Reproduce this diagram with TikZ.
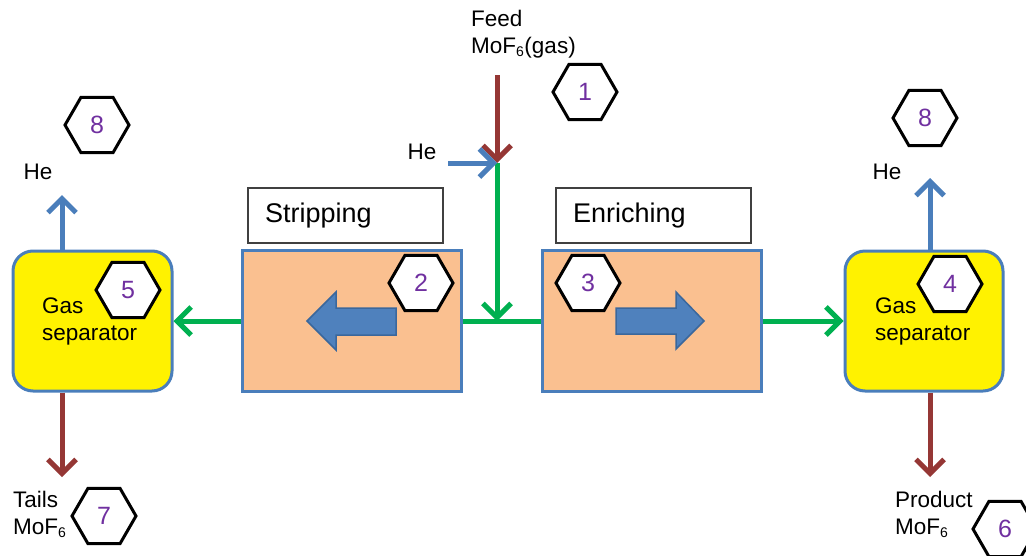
\documentclass[tikz,border=0pt]{standalone}
\usepackage{fontspec}
\setmainfont{Liberation Sans}
\usetikzlibrary{arrows.meta,shapes.geometric}
\definecolor{gline}{HTML}{00B050}
\definecolor{rline}{HTML}{953735}
\definecolor{bline}{HTML}{4A7EBB}
\definecolor{bfill}{HTML}{4F81BD}
\definecolor{bborder}{HTML}{3A679C}
\definecolor{peach}{HTML}{FAC090}
\definecolor{purp}{HTML}{7030A0}
\tikzset{
  hexa/.style={regular polygon, regular polygon sides=6, minimum size=64pt, inner sep=0pt,
    draw=black, line width=3pt, fill=white, text=purp, font=\fontsize{25}{25}\selectfont},
  sep/.style={draw=bline, line width=3pt, fill=yellow, rounded corners=20pt, inner sep=0pt},
  stage/.style={draw=bline, line width=3pt, fill=peach, inner sep=0pt},
  lbox/.style={draw=black!75, line width=1.5pt, fill=white, inner sep=0pt},
  lbl/.style={font=\fontsize{22.5}{27}\selectfont, inner sep=0pt, align=left},
  big/.style={font=\fontsize{27}{30}\selectfont, inner sep=0pt},
  flow/.style={line width=5pt, -{Straight Barb[length=14pt,width=28pt,line width=5pt]}},
  blockarrow/.style={fill=bfill, draw=bborder, line width=1.5pt},
}
\begin{document}
\begin{tikzpicture}[x=1pt,y=-1pt]
\useasboundingbox (0,0) rectangle (1026,555);
% separators and stages
\node[sep, minimum width=159pt, minimum height=140pt] (lsep) at (92.5,321) {};
\node[sep, minimum width=158pt, minimum height=140pt] (rsep) at (924,321) {};
\node[stage, minimum width=219pt, minimum height=141pt] (strip) at (351.5,321) {};
\node[stage, minimum width=219pt, minimum height=141pt] (enr) at (651.5,321) {};
\node[lbox, minimum width=195pt, minimum height=55pt] (stripl) at (345.5,215.5) {};
\node[lbox, minimum width=195pt, minimum height=55pt] (enrl) at (653.5,215.5) {};
\node[big, anchor=west] (striptext) at (265,216) {Stripping};
\node[big, anchor=west] (enrtext) at (573,216) {Enriching};
% block arrows
\draw[blockarrow] (396,308) -- (336,308) -- (336,292) -- (307,321) -- (336,350) -- (336,335) -- (396,335) -- cycle;
\draw[blockarrow] (616,308) -- (676,308) -- (676,292) -- (704,321) -- (676,349) -- (676,334) -- (616,334) -- cycle;
% separator text
\node[lbl, anchor=west] (lgas) at (42,321) {Gas\\separator};
\node[lbl, anchor=west] (rgas) at (875,321) {Gas\\separator};
% junction
\coordinate (junc) at (497,163);
\coordinate (mid) at (497,321);
\coordinate (feedtop) at (497,75);
\coordinate (hein) at (448,163);
\draw[line width=5pt, gline] (strip.east) -- (enr.west);
\draw[flow, gline] (junc) -- (mid);
\draw[flow, rline] (feedtop) -- (junc);
\draw[flow, bline] (hein) -- (junc);
\draw[flow, gline] (strip.west) -- (lsep.east);
\draw[flow, gline] (enr.east) -- (rsep.west);
% outputs
\coordinate (lhe) at (62,195);
\coordinate (ltail) at (62,477);
\coordinate (rhe) at (930,178);
\coordinate (rprod) at (930,477);
\draw[flow, bline] (lsep.north -| lhe) -- (lhe);
\draw[flow, rline] (lsep.south -| ltail) -- (ltail);
\draw[flow, bline] (rsep.north -| rhe) -- (rhe);
\draw[flow, rline] (rsep.south -| rprod) -- (rprod);
% labels
\node[lbl, anchor=west] (feed) at (471,34) {Feed\\MoF\textsubscript{\fontsize{14}{14}\selectfont 6}(gas)};
\node[lbl] (hefeed) at (422,152) {He};
\node[lbl] (helft) at (38,172) {He};
\node[lbl] (hergt) at (887,172) {He};
\node[lbl, anchor=west] (tails) at (13,514) {Tails\\MoF\textsubscript{\fontsize{14}{14}\selectfont 6}};
\node[lbl, anchor=west] (prod) at (895,514) {Product\\MoF\textsubscript{\fontsize{14}{14}\selectfont 6}};
% hexagons
\node[hexa] (h1) at (585,92) {1};
\node[hexa] (h2) at (421,283) {2};
\node[hexa] (h3) at (588,283) {3};
\node[hexa] (h4) at (950,284) {4};
\node[hexa] (h5) at (128,290) {5};
\node[hexa] (h6) at (1005,529) {6};
\node[hexa] (h7) at (104,516) {7};
\node[hexa] (h8l) at (97,125) {8};
\node[hexa] (h8r) at (925,118) {8};
\end{tikzpicture}
\end{document}
